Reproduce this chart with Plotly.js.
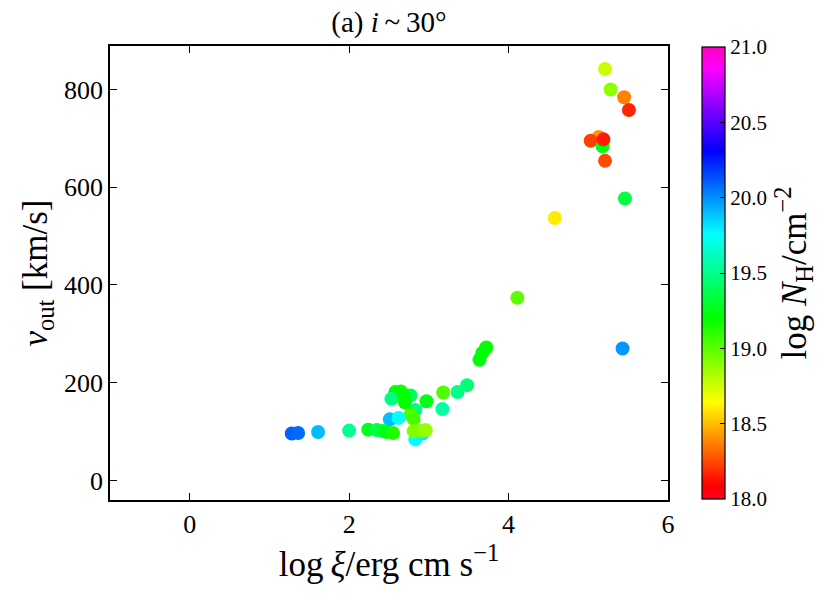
<!DOCTYPE html>
<html>
<head>
<meta charset="utf-8">
<script src="https://cdn.plot.ly/plotly-3.0.1.min.js"></script>
<style>
  body { margin: 0; background: #fff; }
  #graph { width: 831px; height: 598px; }
</style>
</head>
<body>
<div id="graph"></div>
<script>
// values
var logXi = [5.21, 5.28, 5.45, 5.51, 5.13, 5.03, 5.18, 5.19, 5.21, 5.46,
             4.58, 4.11, 5.43, 3.72, 3.67, 3.635, 3.48, 3.36, 3.18, 3.17,
             2.97, 2.77, 2.65, 2.58, 2.53, 2.69, 2.70, 2.83, 2.77, 2.81,
             2.51, 2.62, 2.00, 2.24, 2.35, 2.42, 2.47, 2.55, 2.83, 2.92,
             2.81, 2.90, 2.96, 1.61, 1.28, 1.36];
var vOut = [842, 800, 784, 758, 703, 695, 684, 698, 654, 577,
            537, 374, 270, 272, 261, 247, 195, 181, 180, 146,
            162, 174, 182, 181, 167, 172, 160, 144, 135, 126,
            125, 128, 102, 104, 103, 101, 99, 97, 84, 96,
            101, 101, 103, 99, 96, 97];
var logNH = [18.76, 18.89, 18.37, 18.17, 18.42, 18.23, 19.25, 18.15, 18.25, 19.34,
             18.60, 19.00, 19.98, 19.20, 19.20, 19.22, 19.45, 19.50, 19.03, 19.55,
             19.25, 19.40, 19.14, 19.20, 19.48, 19.20, 19.20, 19.48, 19.03, 19.05,
             19.90, 19.76, 19.51, 19.26, 19.37, 19.30, 19.25, 19.14, 19.76, 19.80,
             18.92, 18.92, 18.87, 19.90, 20.10, 20.08];

// matplotlib gist_rainbow
var gistRainbow = [
  [0.000, 'rgb(255,0,41)'],
  [0.030, 'rgb(255,0,0)'],
  [0.215, 'rgb(255,255,0)'],
  [0.400, 'rgb(0,255,0)'],
  [0.586, 'rgb(0,255,255)'],
  [0.770, 'rgb(0,0,255)'],
  [0.954, 'rgb(255,0,255)'],
  [1.000, 'rgb(255,0,191)']
];

var serif = '"Liberation Serif", "Times New Roman", serif';

var trace = {
  x: logXi,
  y: vOut,
  mode: 'markers',
  type: 'scatter',
  marker: {
    size: 14,
    color: logNH,
    cmin: 18,
    cmax: 21,
    colorscale: gistRainbow,
    line: {width: 0},
    colorbar: {
      x: 1.061, xanchor: 'left',
      y: 0.5, yanchor: 'middle',
      len: 452, lenmode: 'pixels',
      thickness: 23, thicknessmode: 'pixels',
      xpad: 0, ypad: 0,
      outlinewidth: 1.2, outlinecolor: '#000',
      ticks: 'inside', ticklen: 5, tickcolor: '#000',
      tick0: 18, dtick: 0.5, tickformat: '.1f',
      tickfont: {family: serif, size: 21, color: '#000'},
      title: {
        text: 'log <i>N</i><sub>H</sub>/cm<sup>−2</sup>',
        side: 'right',
        font: {family: serif, size: 35, color: '#000'}
      }
    }
  },
  hoverinfo: 'x+y'
};

var layout = {
  width: 831,
  height: 598,
  margin: {l: 110, r: 163, t: 46, b: 98, autoexpand: false},
  paper_bgcolor: '#fff',
  plot_bgcolor: '#fff',
  showlegend: false,
  font: {family: serif, color: '#000'},
  title: {
    text: '(a) <i>i</i>\u2009~\u200930°',
    x: 0.5, xref: 'paper',
    y: 0.963, yref: 'container', yanchor: 'middle',
    font: {family: serif, size: 29, color: '#000'}
  },
  xaxis: {
    range: [-1, 6],
    tickvals: [0, 2, 4, 6],
    ticks: 'inside', ticklen: 7, tickwidth: 1.2, tickcolor: '#000',
    showline: true, linecolor: '#000', linewidth: 1.5, mirror: 'ticks',
    showgrid: false, zeroline: false,
    tickfont: {size: 26},
    title: {
      text: 'log\u2009<i>ξ</i>/erg cm s<sup>−1</sup>',
      font: {size: 35},
      standoff: 8
    }
  },
  yaxis: {
    range: [-40, 889],
    tickvals: [0, 200, 400, 600, 800],
    ticks: 'inside', ticklen: 7, tickwidth: 1.2, tickcolor: '#000',
    showline: true, linecolor: '#000', linewidth: 1.5, mirror: 'ticks',
    showgrid: false, zeroline: false,
    tickfont: {size: 26},
    title: {
      text: '<i>v</i><sub>out</sub> [km/s]',
      font: {size: 35},
      standoff: 6
    }
  }
};

Plotly.newPlot('graph', [trace], layout, {displayModeBar: false});
</script>
</body>
</html>
